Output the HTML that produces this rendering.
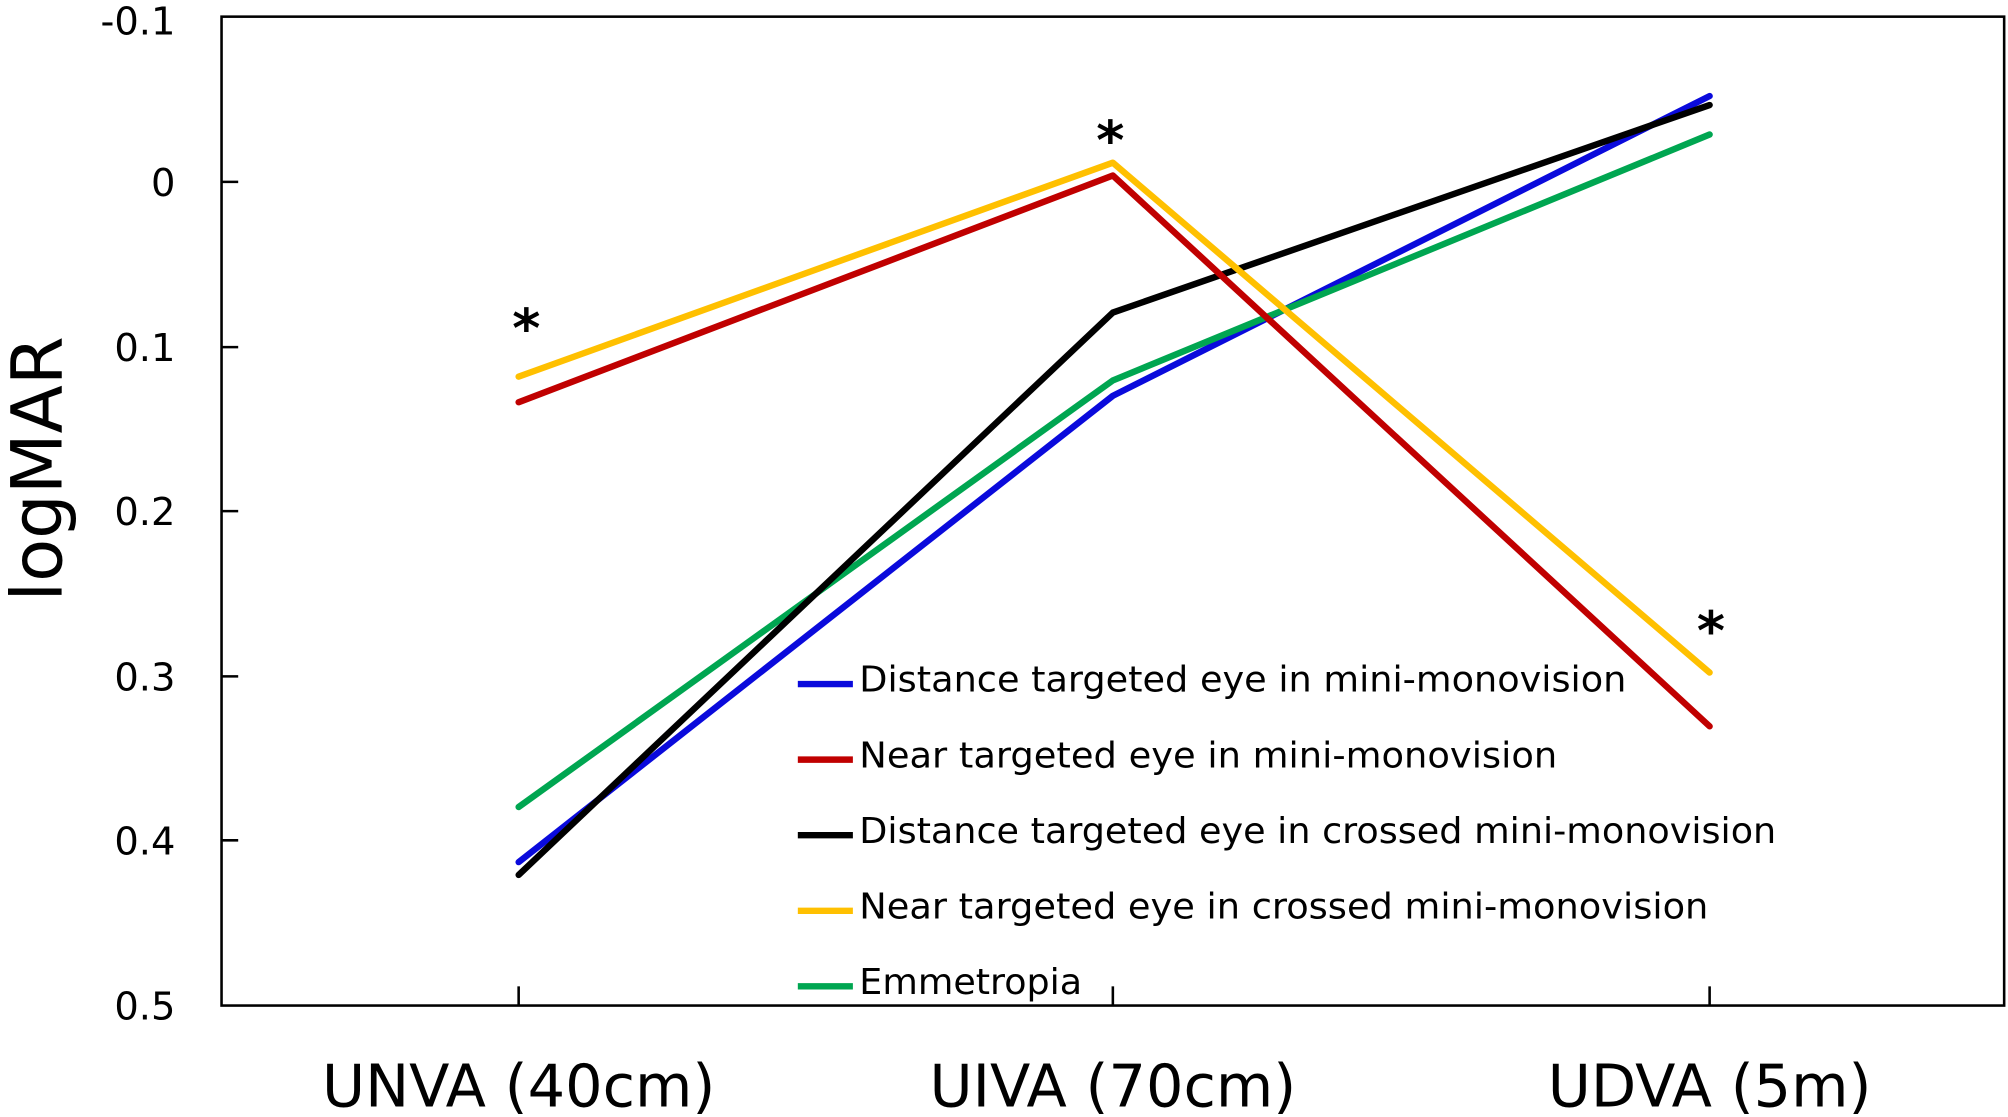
<!DOCTYPE html>
<html><head><meta charset="utf-8"><style>html,body{margin:0;padding:0;background:#fff}svg{display:block}</style></head>
<body>
<svg width="2008" height="1117" viewBox="0 0 1568 872" preserveAspectRatio="none" xmlns="http://www.w3.org/2000/svg" font-family="'DejaVu Sans','Liberation Sans',sans-serif">
<rect x="173" y="13" width="1392" height="772" fill="none" stroke="#000" stroke-width="2"/>
<g stroke="#000" stroke-width="2">
<line x1="173" y1="142" x2="186" y2="142"/>
<line x1="173" y1="271" x2="186" y2="271"/>
<line x1="173" y1="399" x2="186" y2="399"/>
<line x1="173" y1="528" x2="186" y2="528"/>
<line x1="173" y1="656" x2="186" y2="656"/>
<line x1="405" y1="785" x2="405" y2="770"/>
<line x1="869" y1="785" x2="869" y2="770"/>
<line x1="1335" y1="785" x2="1335" y2="770"/>
</g>
<g font-size="30" text-anchor="end" fill="#000">
<text x="137" y="27">-0.1</text>
<text x="137" y="153">0</text>
<text x="137" y="282">0.1</text>
<text x="137" y="410">0.2</text>
<text x="137" y="539">0.3</text>
<text x="137" y="667">0.4</text>
<text x="137" y="796">0.5</text>
</g>
<text transform="translate(48,366) rotate(-90)" font-size="55" text-anchor="middle">logMAR</text>
<g font-size="46" text-anchor="middle">
<text x="405" y="864">UNVA (40cm)</text>
<text x="869" y="864">UIVA (70cm)</text>
<text x="1335" y="864">UDVA (5m)</text>
</g>
<g fill="none" stroke-width="5" stroke-linecap="round" stroke-linejoin="round">
<polyline stroke="#0a0adc" points="405,673 869,309 1335,75"/>
<polyline stroke="#00a651" points="405,630 869,297 1335,105"/>
<polyline stroke="#000" points="405,683 869,244 1335,82"/>
<polyline stroke="#c00000" points="405,314 869,137 1335,567"/>
<polyline stroke="#ffc000" points="405,294 869,127 1335,525"/>
</g>
<g font-size="42" font-weight="bold" text-anchor="middle">
<text x="411" y="271">*</text>
<text x="867" y="124">*</text>
<text x="1336" y="507">*</text>
</g>
<g stroke-width="5">
<line x1="623" y1="534" x2="666" y2="534" stroke="#0a0adc"/>
<line x1="623" y1="593" x2="666" y2="593" stroke="#c00000"/>
<line x1="623" y1="652" x2="666" y2="652" stroke="#000"/>
<line x1="623" y1="711" x2="666" y2="711" stroke="#ffc000"/>
<line x1="623" y1="770" x2="666" y2="770" stroke="#00a651"/>
</g>
<g font-size="28">
<text x="671" y="540" textLength="599" lengthAdjust="spacingAndGlyphs">Distance targeted eye in mini-monovision</text>
<text x="671" y="599" textLength="545" lengthAdjust="spacingAndGlyphs">Near targeted eye in mini-monovision</text>
<text x="671" y="658" textLength="716" lengthAdjust="spacingAndGlyphs">Distance targeted eye in crossed mini-monovision</text>
<text x="671" y="717" textLength="663" lengthAdjust="spacingAndGlyphs">Near targeted eye in crossed mini-monovision</text>
<text x="671" y="776" textLength="174" lengthAdjust="spacingAndGlyphs">Emmetropia</text>
</g>
</svg>
</body></html>
